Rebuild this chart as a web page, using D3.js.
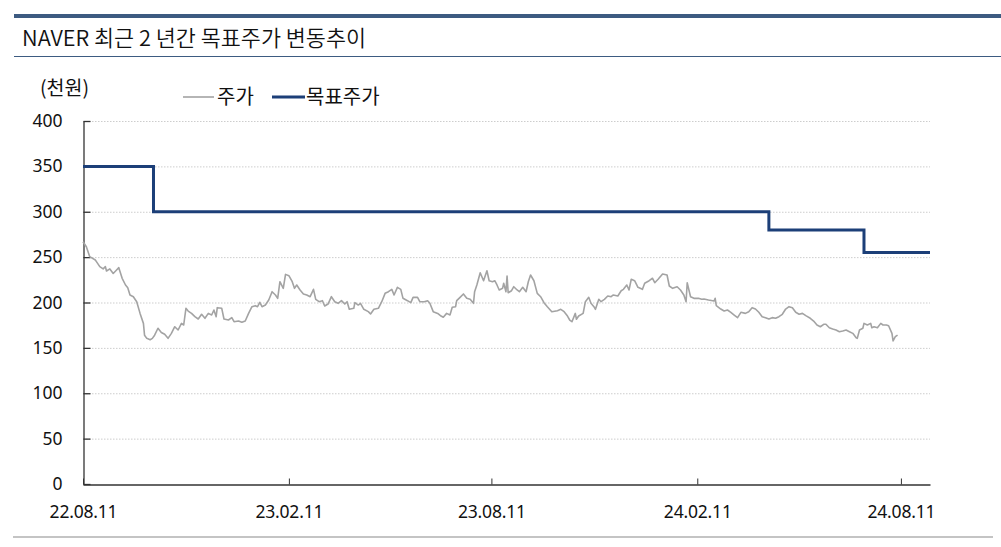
<!DOCTYPE html>
<html>
<head>
<meta charset="utf-8">
<script src="https://cdn.jsdelivr.net/npm/d3@7"></script>
<style>
  html, body { margin: 0; padding: 0; background: #fff; }
  svg { display: block; }
</style>
</head>
<body>
<svg id="chart" width="1001" height="547"></svg>
<script>
// ---------------- DATA ----------------
const chartTitle = "NAVER 최근 2 년간 목표주가 변동추이";
const unitLabel = "(천원)";
const seriesNames = ["주가", "목표주가"];

const yTickValues = [0, 50, 100, 150, 200, 250, 300, 350, 400];
const xTickDates = ["2022-08-11", "2023-02-11", "2023-08-11", "2024-02-11", "2024-08-11"];
const xDomainDates = ["2022-08-11", "2024-09-06"];

// 목표주가 (천원) - step series
const targetDates  = ["2022-08-11", "2022-10-13", "2024-04-15", "2024-07-09", "2024-09-06"];
const targetValues = [350, 300, 280, 255, 255];

// 주가 (천원)
const priceDates = [
"2022-08-11","2022-08-14","2022-08-17","2022-08-22","2022-08-23","2022-08-26","2022-08-29","2022-08-31",
"2022-09-01","2022-09-04","2022-09-07","2022-09-10","2022-09-12","2022-09-15","2022-09-18","2022-09-20",
"2022-09-22","2022-09-25","2022-09-28","2022-10-01","2022-10-04","2022-10-05","2022-10-07","2022-10-10",
"2022-10-12","2022-10-14","2022-10-17","2022-10-20","2022-10-23","2022-10-26","2022-10-29","2022-11-01",
"2022-11-04","2022-11-07","2022-11-09","2022-11-11","2022-11-13","2022-11-16","2022-11-19","2022-11-22",
"2022-11-25","2022-11-28","2022-12-01","2022-12-04","2022-12-06","2022-12-08","2022-12-09","2022-12-13",
"2022-12-15","2022-12-19","2022-12-22","2022-12-24","2022-12-28","2022-12-31","2023-01-03","2023-01-06",
"2023-01-09","2023-01-12","2023-01-14","2023-01-16","2023-01-18","2023-01-21","2023-01-24","2023-01-27",
"2023-01-30","2023-02-01","2023-02-03","2023-02-06","2023-02-08","2023-02-11","2023-02-14","2023-02-16",
"2023-02-18","2023-02-21","2023-02-24","2023-02-27","2023-03-02","2023-03-05","2023-03-07","2023-03-10",
"2023-03-13","2023-03-15","2023-03-18","2023-03-21","2023-03-24","2023-03-27","2023-03-30","2023-04-02",
"2023-04-04","2023-04-06","2023-04-10","2023-04-11","2023-04-14","2023-04-16","2023-04-19","2023-04-23",
"2023-04-25","2023-04-28","2023-05-02","2023-05-05","2023-05-08","2023-05-11","2023-05-14","2023-05-16",
"2023-05-19","2023-05-22","2023-05-24","2023-05-28","2023-05-31","2023-06-02","2023-06-06","2023-06-08",
"2023-06-12","2023-06-15","2023-06-17","2023-06-20","2023-06-24","2023-06-27","2023-06-29","2023-07-02",
"2023-07-05","2023-07-07","2023-07-10","2023-07-11","2023-07-14","2023-07-17","2023-07-20","2023-07-23",
"2023-07-26","2023-07-27","2023-07-29","2023-08-01","2023-08-04","2023-08-07","2023-08-09","2023-08-12",
"2023-08-14","2023-08-16","2023-08-18","2023-08-21","2023-08-22","2023-08-24","2023-08-25","2023-08-26",
"2023-08-29","2023-08-31","2023-09-03","2023-09-05","2023-09-08","2023-09-11","2023-09-13","2023-09-15",
"2023-09-18","2023-09-21","2023-09-24","2023-09-27","2023-09-30","2023-10-04","2023-10-09","2023-10-12",
"2023-10-15","2023-10-18","2023-10-20","2023-10-22","2023-10-25","2023-10-26","2023-10-28","2023-11-01",
"2023-11-03","2023-11-06","2023-11-08","2023-11-11","2023-11-12","2023-11-15","2023-11-17","2023-11-20",
"2023-11-23","2023-11-26","2023-11-28","2023-12-02","2023-12-05","2023-12-07","2023-12-10","2023-12-12",
"2023-12-14","2023-12-17","2023-12-20","2023-12-24","2023-12-26","2023-12-30","2024-01-02","2024-01-04",
"2024-01-07","2024-01-11","2024-01-15","2024-01-17","2024-01-20","2024-01-24","2024-01-27","2024-01-30",
"2024-02-01","2024-02-02","2024-02-05","2024-02-08","2024-02-12","2024-02-15","2024-02-17","2024-02-21",
"2024-02-26","2024-02-27","2024-02-28","2024-03-03","2024-03-06","2024-03-09","2024-03-12","2024-03-15",
"2024-03-18","2024-03-21","2024-03-25","2024-03-28","2024-03-31","2024-04-03","2024-04-06","2024-04-09",
"2024-04-12","2024-04-15","2024-04-18","2024-04-21","2024-04-24","2024-04-27","2024-04-30","2024-05-03",
"2024-05-06","2024-05-09","2024-05-12","2024-05-15","2024-05-18","2024-05-22","2024-05-25","2024-05-28",
"2024-05-31","2024-06-03","2024-06-05","2024-06-08","2024-06-11","2024-06-14","2024-06-17","2024-06-20",
"2024-06-23","2024-06-26","2024-06-29","2024-07-02","2024-07-03","2024-07-05","2024-07-08","2024-07-09",
"2024-07-12","2024-07-15","2024-07-16","2024-07-18","2024-07-21","2024-07-24","2024-07-26","2024-07-29",
"2024-07-31","2024-08-03","2024-08-04","2024-08-06","2024-08-08"
];
const priceValues = [
267,261.5,250.5,246.8,245,239.5,237,239.5,
234.7,237,232,235.8,238.4,226.7,219.3,216.3,
208.3,206.4,200.9,188,177,164,160.5,159,
160.5,164,171.6,167,165,160.5,166,173.3,
169.7,177,175.2,193.6,190.6,188,184.4,181.8,
187,182.6,188,186.2,191.7,184.4,194.3,193.6,
181.8,180.7,183.3,178.8,179.6,178.2,179.6,188,
195.4,196.5,195.4,200.2,195.4,197.2,202.8,211.9,
208.3,204.6,222.9,215.6,231,229.5,222.9,215.6,
219.3,213.8,209.4,208.3,206.4,214.5,203.5,200.9,
202,196.1,198.3,206.4,200.9,199.1,202,198.3,
200.9,192.5,193.6,199.8,197.2,199.1,192.5,189.9,
187.3,192.5,193.6,200.9,210.1,211.9,214.5,208.3,
216.7,214.5,204.6,202,199.8,205.7,205.7,200.9,
200.9,202,199.1,189.9,188,185.1,183.7,188,
186.2,194.7,195.4,202,205.7,209.4,204.6,203.5,
199.1,211.9,219.3,232.8,224,235,224,222.9,
224,219.3,213.8,215.6,221.2,211.9,229.2,210.8,
213,217.4,213.8,211.9,216.7,211.9,222.9,230.3,
224,210.1,206.4,199.8,195.4,189.9,191,192.5,
189.9,185.1,180.7,178.8,188,181.5,185.1,188,
200.9,205.7,199.1,194.7,192.5,203.5,200.9,203.5,
207.2,206.4,208.3,207.2,213,214.5,219.3,213.8,
225.6,224,216.7,214.5,221.2,224,226.7,221.8,
225.6,231.4,230.3,218.2,215.6,217.4,213.8,208.3,
200.9,221.8,206.4,204.6,204.6,203.5,203.9,202.8,
201.6,204.6,196.5,192.8,190.6,191.7,189.2,186.2,
183.3,189.2,188,189.9,194.3,192.8,189.2,184.4,
183.3,181.8,183.3,182.6,184.4,187,192.8,195.4,
194.3,189.2,187,188,185.5,182.6,179.6,175.2,
173.3,176,176,172.2,170.8,169.7,167.8,168.6,
169.7,167.8,166,161.2,160.5,169.7,171.6,177,
175.2,177,172.2,173.3,172.2,177,175.2,175.2,
174.4,166,157.6,162.3,164
];

// ---------------- CHART ----------------
const parse = d3.timeParse("%Y-%m-%d");
const fmt = d3.timeFormat("%y.%m.%d");
const svg = d3.select("#chart");

const plot = { left: 83, right: 930, top: 121, bottom: 484 };

const x = d3.scaleTime()
  .domain(xDomainDates.map(parse))
  .range([plot.left, plot.right]);
const y = d3.scaleLinear()
  .domain([0, 400])
  .range([plot.bottom, plot.top]);

const CJK = "'Noto Sans CJK KR', 'Noto Sans', sans-serif";
const NUM = "'Noto Sans', 'DejaVu Sans', sans-serif";

// Header decorations
svg.append("rect").attr("x", 14).attr("y", 14).attr("width", 987).attr("height", 4).attr("fill", "#3d5b81");
svg.append("text")
  .attr("x", 22).attr("y", 45.5)
  .attr("font-family", CJK).attr("font-size", 22).attr("font-weight", 350)
  .attr("fill", "#111")
  .attr("textLength", 344).attr("lengthAdjust", "spacingAndGlyphs")
  .text(chartTitle);
svg.append("line").attr("x1", 14).attr("x2", 1001).attr("y1", 56.5).attr("y2", 56.5)
  .attr("stroke", "#3d5b81").attr("stroke-width", 1);
svg.append("rect").attr("x", 13).attr("y", 536).attr("width", 980).attr("height", 2).attr("fill", "#c4c4c4");

// Gridlines
svg.append("g").selectAll("line")
  .data(yTickValues.filter(v => v > 0))
  .join("line")
  .attr("x1", plot.left).attr("x2", plot.right)
  .attr("y1", d => y(d) + 0.5).attr("y2", d => y(d) + 0.5)
  .attr("stroke", "#cdcdcd").attr("stroke-width", 1)
  .attr("stroke-dasharray", "1.5,1.5");

// Y axis
const yAxis = d3.axisLeft(y).tickValues(yTickValues).tickSizeInner(-7).tickSizeOuter(0).tickPadding(21);
const gy = svg.append("g").attr("transform", `translate(${plot.left + 0.5},0)`).call(yAxis);
gy.select(".domain").attr("stroke", "#333").attr("stroke-width", 1.3);
gy.selectAll(".tick line").attr("stroke", "#333").attr("stroke-width", 1.3);
gy.selectAll(".tick text").attr("font-family", NUM).attr("font-size", 17.5).attr("fill", "#111");

// X axis
const xAxis = d3.axisBottom(x).tickValues(xTickDates.map(parse)).tickFormat(fmt)
  .tickSizeInner(-6).tickSizeOuter(0).tickPadding(21);
const gx = svg.append("g").attr("transform", `translate(0,${plot.bottom + 0.5})`).call(xAxis);
gx.select(".domain").attr("stroke", "#333").attr("stroke-width", 1.3);
gx.selectAll(".tick line").attr("stroke", "#333").attr("stroke-width", 1);
gx.selectAll(".tick text").attr("font-family", NUM).attr("font-size", 17.5).attr("fill", "#111")
  .attr("letter-spacing", "-0.2px");

// Price line
const priceData = priceDates.map((d, i) => ({ date: parse(d), value: priceValues[i] }));
svg.append("path")
  .datum(priceData)
  .attr("fill", "none")
  .attr("stroke", "#a3a3a3")
  .attr("stroke-width", 1.6)
  .attr("stroke-linejoin", "round")
  .attr("d", d3.line().x(d => x(d.date)).y(d => y(d.value)));

// Target step line
const targetData = targetDates.map((d, i) => ({ date: parse(d), value: targetValues[i] }));
svg.append("path")
  .datum(targetData)
  .attr("fill", "none")
  .attr("stroke", "#1c3f78")
  .attr("stroke-width", 3)
  .attr("d", d3.line().curve(d3.curveStepAfter).x(d => x(d.date)).y(d => y(d.value)));

// Unit label
svg.append("text").attr("x", 40).attr("y", 94.5)
  .attr("font-family", CJK).attr("font-size", 19.5).attr("fill", "#111")
  .text(unitLabel);

// Legend
const legendItems = [
  { name: seriesNames[0], color: "#a3a3a3", width: 1.6, x1: 183, x2: 214, tx: 217 },
  { name: seriesNames[1], color: "#1c3f78", width: 3, x1: 272, x2: 305, tx: 306 }
];
const lg = svg.append("g");
lg.selectAll("line").data(legendItems).join("line")
  .attr("x1", d => d.x1).attr("x2", d => d.x2)
  .attr("y1", 97).attr("y2", 97)
  .attr("stroke", d => d.color).attr("stroke-width", d => d.width);
lg.selectAll("text").data(legendItems).join("text")
  .attr("x", d => d.tx).attr("y", 103.5)
  .attr("font-family", CJK).attr("font-size", 20).attr("fill", "#111")
  .text(d => d.name);
</script>
</body>
</html>
